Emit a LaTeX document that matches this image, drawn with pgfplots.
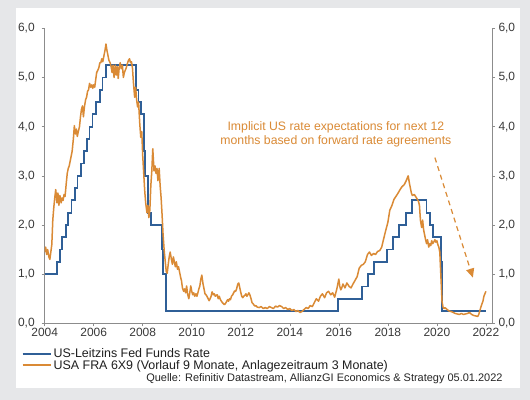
\documentclass[border=0pt]{standalone}
\usepackage{fontspec}
\setmainfont{Liberation Sans}
\usepackage{pgfplots}
\pgfplotsset{compat=1.18}
\usetikzlibrary{arrows.meta}
\definecolor{fedblue}{HTML}{2F5F97}
\definecolor{fraorange}{HTML}{DA8A35}
\definecolor{bggray}{HTML}{E6E7E9}
\definecolor{axgray}{HTML}{8C8C8C}
\definecolor{txtgray}{HTML}{3A3A3A}

\pgfplotstableread{
x y
2004.00 1.00
2004.49 1.25
2004.61 1.50
2004.72 1.75
2004.86 2.00
2004.95 2.25
2005.09 2.50
2005.22 2.75
2005.34 3.00
2005.49 3.25
2005.61 3.50
2005.72 3.75
2005.83 4.00
2005.95 4.25
2006.08 4.50
2006.24 4.75
2006.36 5.00
2006.49 5.25
2007.71 4.75
2007.83 4.50
2007.94 4.25
2008.06 3.50
2008.08 3.00
2008.21 2.25
2008.33 2.00
2008.77 1.50
2008.83 1.00
2008.96 0.25
2015.96 0.50
2016.95 0.75
2017.20 1.00
2017.45 1.25
2017.95 1.50
2018.22 1.75
2018.45 2.00
2018.73 2.25
2018.97 2.50
2019.58 2.25
2019.72 2.00
2019.83 1.75
2020.17 1.25
2020.20 0.25
2022.00 0.25
}\fedtable

\pgfplotstableread{
x y
2004.00 1.45
2004.04 1.55
2004.08 1.40
2004.12 1.50
2004.17 1.35
2004.21 1.30
2004.25 1.45
2004.29 1.60
2004.33 2.10
2004.37 2.35
2004.41 2.55
2004.45 2.72
2004.50 2.45
2004.54 2.65
2004.58 2.40
2004.62 2.60
2004.67 2.45
2004.71 2.55
2004.75 2.50
2004.79 2.62
2004.83 2.58
2004.88 2.85
2004.92 3.05
2004.96 3.15
2005.00 3.20
2005.04 3.30
2005.08 3.40
2005.12 3.50
2005.17 3.75
2005.21 4.02
2005.25 3.85
2005.29 3.95
2005.33 3.80
2005.37 3.90
2005.42 4.00
2005.46 4.20
2005.50 4.35
2005.54 4.42
2005.58 4.20
2005.62 4.40
2005.67 4.55
2005.71 4.60
2005.75 4.72
2005.79 4.75
2005.83 4.88
2005.88 4.80
2005.92 4.85
2005.96 4.78
2006.00 4.85
2006.04 4.80
2006.08 4.95
2006.12 5.10
2006.17 5.15
2006.21 5.20
2006.25 5.30
2006.29 5.30
2006.33 5.38
2006.37 5.32
2006.42 5.45
2006.46 5.55
2006.50 5.68
2006.54 5.55
2006.58 5.45
2006.62 5.35
2006.67 5.30
2006.71 5.22
2006.75 5.10
2006.79 5.25
2006.83 5.00
2006.88 5.25
2006.92 5.05
2006.96 5.22
2007.00 4.98
2007.04 5.20
2007.08 5.30
2007.12 5.18
2007.17 5.25
2007.21 5.00
2007.25 5.10
2007.29 5.15
2007.33 5.20
2007.37 5.28
2007.42 5.35
2007.46 5.38
2007.50 5.30
2007.54 5.32
2007.58 5.20
2007.62 4.90
2007.67 4.60
2007.71 4.80
2007.75 4.55
2007.79 4.40
2007.83 4.50
2007.88 4.05
2007.92 3.78
2007.96 3.90
2008.00 3.40
2008.04 3.05
2008.08 2.70
2008.12 2.45
2008.17 2.25
2008.21 2.40
2008.25 2.15
2008.29 2.30
2008.33 2.80
2008.37 3.10
2008.41 3.55
2008.46 3.10
2008.50 3.20
2008.54 3.05
2008.58 3.15
2008.62 2.90
2008.67 3.15
2008.71 2.80
2008.75 2.55
2008.79 2.20
2008.83 1.80
2008.88 1.45
2008.92 1.25
2008.96 1.05
2009.00 1.02
2009.04 1.20
2009.08 1.35
2009.12 1.45
2009.17 1.30
2009.21 1.20
2009.25 1.35
2009.29 1.25
2009.33 1.15
2009.37 1.25
2009.42 1.10
2009.46 1.15
2009.50 1.05
2009.54 0.95
2009.58 0.87
2009.62 0.72
2009.67 0.65
2009.71 0.70
2009.75 0.62
2009.79 0.76
2009.83 0.60
2009.88 0.50
2009.92 0.62
2009.96 0.76
2010.00 0.65
2010.04 0.58
2010.08 0.62
2010.12 0.55
2010.17 0.60
2010.21 0.55
2010.25 0.62
2010.29 0.70
2010.33 0.76
2010.37 0.90
2010.41 0.98
2010.46 0.80
2010.50 0.70
2010.54 0.60
2010.58 0.58
2010.62 0.55
2010.67 0.50
2010.71 0.46
2010.75 0.50
2010.79 0.55
2010.83 0.64
2010.88 0.58
2010.92 0.60
2010.96 0.55
2011.00 0.57
2011.04 0.58
2011.08 0.50
2011.12 0.55
2011.17 0.48
2011.21 0.45
2011.25 0.42
2011.29 0.40
2011.33 0.38
2011.37 0.40
2011.42 0.44
2011.46 0.48
2011.50 0.45
2011.54 0.50
2011.58 0.48
2011.62 0.55
2011.67 0.58
2011.71 0.62
2011.75 0.66
2011.79 0.65
2011.83 0.70
2011.88 0.80
2011.92 0.82
2011.96 0.72
2012.00 0.63
2012.04 0.55
2012.08 0.52
2012.12 0.55
2012.17 0.57
2012.21 0.60
2012.25 0.55
2012.29 0.58
2012.33 0.62
2012.37 0.58
2012.42 0.50
2012.46 0.42
2012.50 0.40
2012.54 0.37
2012.58 0.35
2012.62 0.36
2012.67 0.33
2012.75 0.32
2012.83 0.34
2012.92 0.30
2013.00 0.32
2013.08 0.30
2013.17 0.34
2013.25 0.32
2013.33 0.30
2013.42 0.35
2013.50 0.33
2013.58 0.36
2013.67 0.34
2013.75 0.30
2013.83 0.32
2013.92 0.28
2014.00 0.30
2014.08 0.26
2014.17 0.28
2014.25 0.24
2014.33 0.26
2014.42 0.22
2014.50 0.24
2014.58 0.28
2014.67 0.32
2014.75 0.30
2014.83 0.36
2014.92 0.34
2015.00 0.42
2015.08 0.50
2015.17 0.45
2015.25 0.55
2015.33 0.60
2015.42 0.52
2015.50 0.62
2015.58 0.65
2015.67 0.58
2015.75 0.62
2015.83 0.53
2015.92 0.70
2016.00 0.90
2016.04 0.75
2016.08 0.68
2016.12 0.72
2016.17 0.80
2016.25 0.72
2016.33 0.82
2016.42 0.75
2016.50 0.72
2016.58 0.80
2016.67 0.88
2016.75 0.95
2016.83 1.12
2016.92 1.18
2017.00 1.20
2017.08 1.25
2017.17 1.40
2017.25 1.45
2017.33 1.38
2017.42 1.42
2017.50 1.40
2017.58 1.46
2017.67 1.48
2017.75 1.55
2017.83 1.72
2017.92 1.90
2018.00 2.05
2018.08 2.30
2018.17 2.40
2018.25 2.52
2018.33 2.58
2018.42 2.65
2018.50 2.72
2018.58 2.78
2018.67 2.82
2018.75 2.90
2018.83 3.00
2018.88 2.85
2018.92 2.75
2018.96 2.65
2019.00 2.60
2019.08 2.62
2019.17 2.55
2019.25 2.48
2019.29 2.40
2019.33 2.10
2019.38 1.95
2019.42 2.10
2019.46 1.90
2019.50 1.80
2019.54 1.70
2019.58 1.62
2019.62 1.70
2019.67 1.55
2019.71 1.62
2019.75 1.58
2019.79 1.68
2019.83 1.62
2019.88 1.66
2019.92 1.70
2019.96 1.65
2020.00 1.68
2020.04 1.60
2020.08 1.55
2020.12 1.45
2020.17 0.90
2020.21 0.45
2020.25 0.33
2020.29 0.30
2020.33 0.32
2020.42 0.28
2020.50 0.25
2020.58 0.24
2020.67 0.22
2020.75 0.20
2020.83 0.19
2020.92 0.18
2021.00 0.20
2021.08 0.18
2021.17 0.19
2021.25 0.20
2021.33 0.22
2021.42 0.18
2021.50 0.16
2021.58 0.15
2021.67 0.14
2021.71 0.18
2021.75 0.25
2021.79 0.32
2021.83 0.38
2021.88 0.45
2021.92 0.55
2021.96 0.60
2022.00 0.65
}\fratable

\begin{document}
\begin{tikzpicture}
\fill[bggray] (-44.7bp,-76.7bp) rectangle (485.3bp,323.3bp);
\fill[white] (-28.7bp,-64.7bp) rectangle (475.3bp,315.3bp);

\begin{axis}[
  scale only axis, width=447.3bp, height=295bp,
  xmin=2004, xmax=2022.25, ymin=0, ymax=6,
  axis x line*=bottom, axis y line*=left,
  axis line style={axgray, line width=0.9bp},
  tick align=outside, major tick length=3bp,
  tick style={axgray, line width=0.6bp},
  xtick={2004,2006,...,2022},
  ytick={0,1,...,6},
  xticklabel style={yshift=1.5bp, /pgf/number format/1000 sep={}},
  yticklabel style={xshift=-3.5bp, /pgf/number format/.cd, fixed, fixed zerofill, precision=1, use comma},
  ticklabel style={font=\fontsize{12}{13}\selectfont, text=txtgray},
  /pgf/number format/assume math mode=true,
  legend style={at={(0,0)}, anchor=north west, xshift=-23bp, yshift=-23bp,
    draw=none, fill=none, font=\fontsize{12.5}{13}\selectfont, text=black!88,
    row sep=-3bp, inner sep=0pt},
  legend cell align=left,
  legend image code/.code={\draw[#1, line width=1.7bp] (0bp,0bp) -- (28bp,0bp);},
]
\addplot[const plot, fedblue, line width=1.8bp] table[x=x,y=y] {\fedtable};
\addlegendentry{US-Leitzins Fed Funds Rate}
\addplot[fraorange, line width=1.5bp, line join=round] table[x=x,y=y] {\fratable};
\addlegendentry{USA FRA 6X9 (Vorlauf 9 Monate, Anlagezeitraum 3 Monate)}

\node[font=\fontsize{12.3}{14}\selectfont, text=fraorange, align=center] at (axis cs:2015.88,3.84)
  {Implicit US rate expectations for next 12\\months based on forward rate agreements};
\draw[fraorange, line width=1.2bp, dash pattern=on 5bp off 4bp,
  -{Triangle[length=9bp,width=8bp]}] (axis cs:2019.92,3.37) -- (axis cs:2021.47,0.93);
\end{axis}

\begin{axis}[
  scale only axis, width=447.3bp, height=295bp,
  xmin=2004, xmax=2022.25, ymin=0, ymax=6,
  axis x line=none, axis y line*=right,
  axis line style={axgray, line width=0.9bp},
  tick align=outside, major tick length=3bp,
  tick style={axgray, line width=0.6bp},
  ytick={0,1,...,6},
  yticklabel style={/pgf/number format/.cd, fixed, fixed zerofill, precision=1, use comma},
  ticklabel style={font=\fontsize{12}{13}\selectfont, text=txtgray},
  /pgf/number format/assume math mode=true,
]
\end{axis}

\node[anchor=east, font=\fontsize{11}{12}\selectfont, text=black!85] at (461.3bp,-55.4bp)
  {Quelle: Refinitiv Datastream, AllianzGI Economics \& Strategy 05.01.2022};
\end{tikzpicture}
\end{document}
